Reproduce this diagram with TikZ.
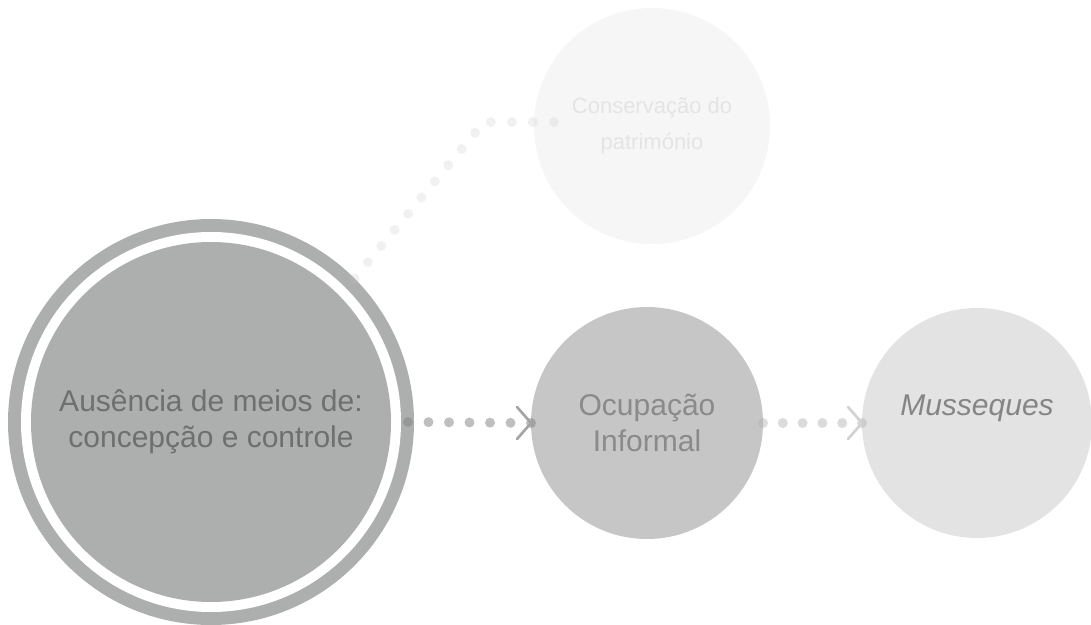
\documentclass[tikz,border=0pt]{standalone}
\usepackage{fontspec}
\setmainfont{Liberation Sans}
\definecolor{bigfill}{HTML}{ADAFAE}
\definecolor{ocfill}{HTML}{C6C6C6}
\definecolor{musfill}{HTML}{E3E3E3}
\definecolor{consfill}{HTML}{F6F6F6}
\definecolor{bigtext}{HTML}{6F6F6F}
\definecolor{octext}{HTML}{8A8A8A}
\definecolor{mustext}{HTML}{858585}
\definecolor{constext}{HTML}{E4E4E4}
\definecolor{dotA}{HTML}{808080}
\definecolor{dotB}{HTML}{B0B0B0}
\definecolor{dotC}{HTML}{C0C0C0}
\definecolor{chevA}{HTML}{A4A4A4}
\definecolor{chevB}{HTML}{D2D2D2}
\begin{document}
\begin{tikzpicture}[x=0.75pt,y=-0.75pt,
  circ/.style={circle,inner sep=0pt,outer sep=0pt,minimum size=#1*1.5pt,align=center},
  bigfont/.style={font=\fontsize{22.5pt}{27pt}\selectfont},
  smallfont/.style={font=\fontsize{16.5pt}{27pt}\selectfont},
  dotline/.style={line width=7.5pt,line cap=round,dash pattern=on 0pt off #1},
  chev/.style={line width=2pt,line cap=round,line join=miter}]
\useasboundingbox (0,0) rectangle (1091,624);
% circles
\node[circ=203,fill=bigfill] (bigout) at (211,422) {};
\node[circ=190,fill=white] (biggap) at (bigout.center) {};
\node[circ=180,fill=bigfill,bigfont,text=bigtext] (big) at (bigout.center) {Ausência de meios de:\\concepção e controle};
\node[circ=116,fill=ocfill,bigfont,text=octext] (ocup) at (647,423) {Ocupação\\Informal};
\node[circ=115,fill=musfill,bigfont,text=mustext] (muss) at (977,423) {\itshape Musseques\\~};
\node[circ=118,fill=consfill,smallfont,text=constext] (cons) at (652,126) {Conservação do\\património};
% connectors
\draw[dotline=15.375pt,dotA,draw opacity=0.5,shorten <=-4.5pt] (bigout.east) -- (ocup.west);
\draw[chev,chevA] ([shift={(-14,-16)}]ocup.west) -- (ocup.west) -- ([shift={(-14,16)}]ocup.west);
\draw[dotline=14.85pt,dotB,draw opacity=0.45] (ocup.east) -- (muss.west);
\draw[chev,chevB] ([shift={(-14,-16)}]muss.west) -- (muss.west) -- ([shift={(-14,16)}]muss.west);
\coordinate (bend) at (484,122);
\coordinate (consend) at (571,122);
\draw[dotline=15.75pt,dotC,draw opacity=0.22] (bigout.45) -- (bend) -- (consend);
\end{tikzpicture}
\end{document}
